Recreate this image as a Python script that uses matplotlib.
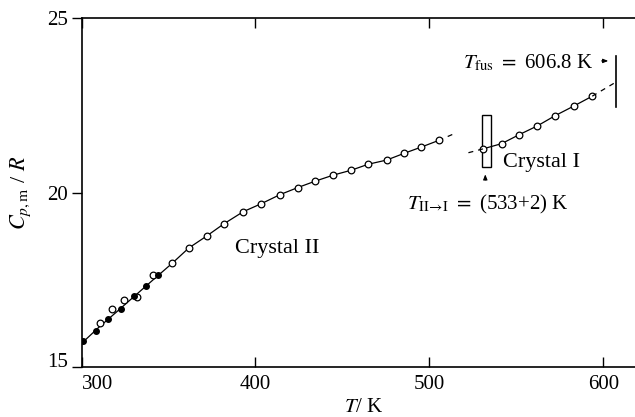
import matplotlib
matplotlib.use("Agg")
import matplotlib.pyplot as plt
from matplotlib.patches import Rectangle

plt.rcParams["font.family"] = ["Liberation Serif", "DejaVu Serif"]
plt.rcParams["mathtext.fontset"] = "stix"

# crystal II, open circles
t2_open = [310.6, 317.3, 324.2, 332.0, 341.2, 352.1, 361.7, 371.9, 381.8, 393.0,
           403.4, 414.2, 424.3, 434.1, 444.9, 455.2, 464.9, 475.5, 485.4, 495.3, 505.3]
cp2_open = [16.25, 16.65, 16.93, 17.00, 17.64, 17.97, 18.41, 18.75, 19.10, 19.45,
            19.68, 19.94, 20.14, 20.32, 20.50, 20.64, 20.81, 20.93, 21.12, 21.30, 21.49]
# crystal II, filled dots
t2_fill = [301.1, 308.2, 315.4, 322.7, 330.1, 337.0, 344.1]
cp2_fill = [15.75, 16.03, 16.38, 16.67, 17.03, 17.32, 17.64]
# smoothed curve for crystal II
t2_fit = [301, 310, 320, 330, 341, 352.1, 361.7, 371.9, 381.8, 393.0, 403.4, 414.2,
          424.3, 434.1, 444.9, 455.2, 464.9, 475.5, 485.4, 495.3, 505.3]
cp2_fit = [15.72, 16.14, 16.57, 17.01, 17.49, 17.97, 18.41, 18.75, 19.10, 19.45, 19.68,
           19.94, 20.14, 20.32, 20.50, 20.64, 20.81, 20.93, 21.12, 21.30, 21.49]
t2_ext = [505.3, 515.0]
cp2_ext = [21.49, 21.70]

# crystal I
t1 = [530.9, 541.6, 551.8, 562.2, 572.3, 583.2, 593.7]
cp1 = [21.25, 21.40, 21.66, 21.91, 22.20, 22.48, 22.76]
t1_ext_lo = [522.5, 530.9]
cp1_ext_lo = [21.14, 21.25]
t1_ext_hi = [593.7, 606.2]
cp1_ext_hi = [22.76, 23.13]

x_ticks = [300, 400, 500, 600]
y_ticks = [15, 20, 25]

fig = plt.figure(figsize=(6.35, 4.17), dpi=100)
ax = fig.add_axes([81.5 / 635, 50 / 417, 553 / 635, 349 / 417])

ax.plot(t2_fit, cp2_fit, color="black", lw=0.9)
ax.plot(t2_ext, cp2_ext, color="black", lw=0.9, ls=(0, (4, 4)))
ax.plot(t2_open, cp2_open, ls="none", marker="o", ms=4.8, mfc="white", mec="black", mew=0.9)
ax.plot(t2_fill, cp2_fill, ls="none", marker="o", ms=4, mfc="black", mec="black")

ax.plot(t1, cp1, color="black", lw=0.9, marker="o", ms=4.8, mfc="white", mec="black", mew=0.9)
ax.plot(t1_ext_lo, cp1_ext_lo, color="black", lw=0.9, ls=(0, (4, 4)))
ax.plot(t1_ext_hi, cp1_ext_hi, color="black", lw=0.9, ls=(0, (4, 4)))

# transition marker and melting line
ax.add_patch(Rectangle((530.5, 20.74), 4.8, 1.48, fill=False, lw=1, ec="black"))
ax.annotate("", xy=(532.2, 20.6), xytext=(532.2, 20.28),
            arrowprops=dict(arrowstyle="-|>,head_length=0.3,head_width=0.12", color="black", lw=0.8))
ax.plot([607.5, 607.5], [22.46, 23.92], color="black", lw=1.2)
ax.annotate("", xy=(604.5, 23.77), xytext=(597.5, 23.77),
            arrowprops=dict(arrowstyle="-|>,head_length=0.3,head_width=0.12", color="black", lw=0.8))

ax.text(594.5, 23.72, r"$T_{\rm fus}$ $=$ 606.8 K", ha="right", va="center", fontsize=15)
ax.text(487.4, 19.67, r"$T_{\rm II\!\to\! I}$ $=$ (533+2) K", ha="left", va="center", fontsize=15)
ax.text(388.0, 18.28, "Crystal II", ha="left", va="baseline", fontsize=16)
ax.text(542.4, 20.73, "Crystal I", ha="left", va="baseline", fontsize=16)

ax.set_xlim(301, 618)
ax.set_ylim(15, 25)
ax.set_xticks(x_ticks)
ax.set_yticks(y_ticks)
ax.tick_params(axis="x", direction="in", top=True, length=7, width=1, labelsize=15, pad=6)
ax.tick_params(axis="y", direction="out", right=True, length=7, width=1, labelsize=15, pad=3)
ax.get_xticklabels()[0].set_horizontalalignment("left")
ylabs = ax.get_yticklabels()
ylabs[0].set_verticalalignment("baseline")
ax.spines["right"].set_visible(False)
for s in ["left", "bottom", "top"]:
    ax.spines[s].set_linewidth(1.2)

fig.text(364 / 635, 1 - 408 / 417, r"$T$/ K", ha="center", va="center", fontsize=15)
fig.text(21 / 635, 1 - 193 / 417, r"$C_{p,\rm m}$ / $R$", ha="center", va="center",
         rotation=90, fontsize=16)

fig.savefig("out.png", dpi=100)
